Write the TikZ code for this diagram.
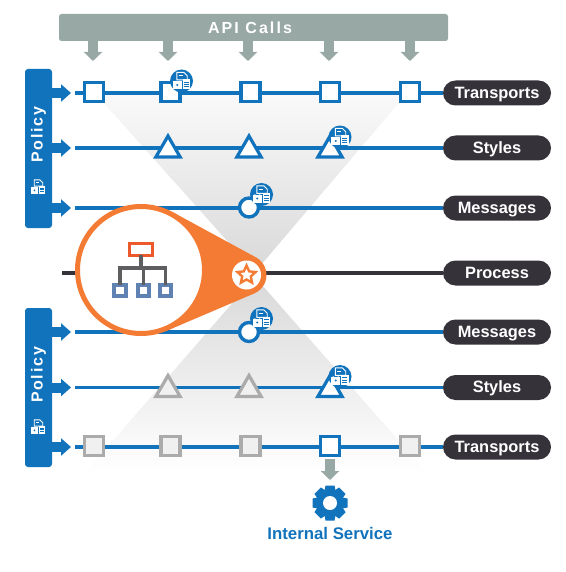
\documentclass[tikz,border=0pt]{standalone}
\usepackage{fontspec}
\setmainfont{Liberation Sans}
\usetikzlibrary{shapes.geometric,shapes.misc,arrows.meta,calc}
\definecolor{blu}{HTML}{1273BD}
\definecolor{apigray}{HTML}{98A8A5}
\definecolor{pilldark}{HTML}{35323A}
\definecolor{orng}{HTML}{F47B33}
\definecolor{redo}{HTML}{EC5A2C}
\definecolor{slate}{HTML}{5F82B2}
\definecolor{stem}{HTML}{5E5E60}
\definecolor{ghost}{HTML}{ABABAB}
\definecolor{ghostfill}{HTML}{F0F0F0}
\tikzset{
  x=1pt,y=-1pt,
  rowline/.style={draw=blu,line width=3.4pt},
  pill/.style={rounded rectangle,fill=pilldark,text=white,minimum width=108pt,minimum height=25pt,inner sep=0pt,outer sep=0pt,text height=12.5pt,text depth=2pt,font=\fontsize{16.4}{17}\selectfont\bfseries},
  sq/.style={rectangle,draw=blu,line width=3.4pt,fill=white,minimum size=19pt,inner sep=0pt,outer sep=0pt},
  sqg/.style={sq,draw=ghost,fill=ghostfill},
  tri/.style={regular polygon,regular polygon sides=3,draw=blu,line width=3.2pt,fill=white,minimum size=28pt,inner sep=0pt,outer sep=0pt,yshift=-2pt},
  trig/.style={tri,draw=ghost,fill=ghostfill},
  circ/.style={circle,draw=blu,line width=3.4pt,fill=white,minimum size=19pt,inner sep=0pt,outer sep=0pt},
  policybar/.style={rectangle,rounded corners=3pt,fill=blu,minimum width=27pt,inner sep=0pt,outer sep=0pt},
  policytxt/.style={text=white,rotate=90,font=\fontsize{16}{16}\selectfont\bfseries\addfontfeature{LetterSpace=11},inner sep=0pt},
  parrow/.style={draw=blu,line width=10pt,-{Triangle[width=17pt,length=10pt]}},
  garrow/.style={draw=apigray,line width=10pt,-{Triangle[width=18pt,length=9pt]}},
  orgbox/.style={rectangle,draw=slate,line width=3.6pt,fill=white,minimum size=11.5pt,inner sep=0pt,outer sep=0pt},
  orgline/.style={draw=stem,line width=3.2pt},
  badge/.pic={
    \fill[blu] (0,0) circle (11.5);
    \pic[scale=1.15] {docs};
  },
  docs/.pic={
    \draw[white,line width=.9pt,fill=blu] (-4,-7.5) -- (2,-7.5) -- (5,-4.5) -- (5,-1) -- (-4,-1) -- cycle;
    \draw[white,line width=.8pt] (-2.5,-4.5) -- (1,-4.5);
    \fill[white] (1,-1.5) rectangle (7.5,7);
    \draw[blu,line width=.8pt] (2,1) -- (6.5,1) (2,3) -- (6.5,3) (2,5) -- (6.5,5);
    \draw[white,line width=1.1pt] (-5.9,0) arc[start angle=180,end angle=0,radius=2.2];
    \fill[white] (-7.5,0) rectangle (0,7);
    \fill[blu] (-3.7,3.5) circle (1);
  },
}
\begin{document}
\begin{tikzpicture}
\useasboundingbox (0,0) rectangle (565,572);
\fill[white] (0,0) rectangle (565,572);
% hourglass
\shade[top color=white!98!black,bottom color=black!15] (94,92) -- (408,92) -- (255,272) -- cycle;
\shade[top color=black!15,bottom color=white] (255,277) -- (427,473) -- (85,473) -- cycle;
% API bar
\node[rectangle,rounded corners=2.5pt,fill=apigray,minimum width=389pt,minimum height=27pt,inner sep=0pt,outer sep=0pt] (api) at (253.5,27.5) {};
\node[text=white,inner sep=0pt,font=\fontsize{16}{16}\selectfont\bfseries\addfontfeature{LetterSpace=13}] (apitxt) at (250,28) {API Calls};
% Policy bars
\node[policybar,minimum height=159pt] (pol1) at (38.5,148.5) {};
\node[policybar,minimum height=159pt] (pol2) at (38.5,387.5) {};
\node[policytxt] (poltxt1) at (38.5,135) {Policy};
\node[policytxt] (poltxt2) at (38.5,375) {Policy};
\pic[scale=.95] at (38,187) {docs};
\pic[scale=.95] at (38,427) {docs};
% pills
\node[pill] (pT) at (497,93) {Transports};
\node[pill] (pS) at (497,148) {Styles};
\node[pill] (pM) at (497,208) {Messages};
\node[pill] (pP) at (497,273) {Process};
\node[pill] (pMb) at (497,332) {Messages};
\node[pill] (pSb) at (497,387.5) {Styles};
\node[pill] (pTb) at (497,447) {Transports};
% row start points
\coordinate (sT) at (75,93);
\coordinate (sS) at (75,148);
\coordinate (sM) at (75,208);
\coordinate (sP) at (62,273);
\coordinate (sMb) at (75,332);
\coordinate (sSb) at (75,387.5);
\coordinate (sTb) at (75,447);
\draw[rowline] (sT) -- (pT);
\draw[rowline] (sS) -- (pS);
\draw[rowline] (sM) -- (pM);
\draw[rowline] (sMb) -- (pMb);
\draw[rowline] (sSb) -- (pSb);
\draw[rowline] (sTb) -- (pTb);
\draw[draw=pilldark,line width=3.4pt] (sP) -- (pP);
% policy arrows
\foreach \r/\p in {93/pol1,148/pol1,208/pol1,332/pol2,387.5/pol2,447/pol2}{
  \coordinate (tipa) at (71,\r);
  \draw[parrow] (\p.east |- tipa) -- (tipa);
}
% top row
\node[sq] (t1) at (94,92) {};
\node[sq] (t2) at (170.5,92) {};
\node[sq] (t3) at (250.5,92) {};
\node[sq] (t4) at (330,92) {};
\node[sq] (t5) at (410,92) {};
\foreach \x in {93,168,248,329,410}{
  \coordinate (tip) at (\x,61);
  \draw[garrow] (api.south -| tip) -- (tip);
}
\node[tri] (s1) at (168,148) {};
\node[tri] (s2) at (249,148) {};
\node[tri] (s3) at (330,148) {};
\node[circ] (m1) at (249,207.5) {};
\node[circ] (m2) at (249,332) {};
\node[trig] (b1) at (168,387.5) {};
\node[trig] (b2) at (249,387.5) {};
\node[tri] (b3) at (330,387.5) {};
\node[sqg] (q1) at (94,446) {};
\node[sqg] (q2) at (170.5,446) {};
\node[sqg] (q3) at (250.5,446) {};
\node[sq] (q4) at (330,446) {};
\node[sqg] (q5) at (410,446) {};
% badges
\pic at (181.5,81) {badge};
\pic at (261.5,194.5) {badge};
\pic at (340,137) {badge};
\pic at (261.5,318.5) {badge};
\pic at (340,376.5) {badge};
% magnifier
\coordinate (big) at (141,270);
\coordinate (small) at (246.5,275);
\fill[orng] ($(big)+(67:66)$) -- ($(small)+(67:20)$) arc[start angle=67,end angle=-61.6,radius=20] -- ($(big)+(-61.6:66)$) -- cycle;
\node[circle,draw=orng,line width=5pt,fill=white,minimum size=127pt,inner sep=0pt,outer sep=0pt] (lens) at (big) {};
\node[circle,fill=white,minimum size=29pt,inner sep=0pt,outer sep=0pt] (focus) at (small) {};
\node[star,star points=5,star point ratio=2.1,draw=orng,line width=2.4pt,fill=white,minimum size=19pt,inner sep=0pt,outer sep=0pt] (starn) at (small) {};
% org chart
\node[rectangle,draw=redo,line width=3.2pt,fill=white,minimum width=22.5pt,minimum height=11.5pt,inner sep=0pt,outer sep=0pt] (root) at (141,249.5) {};
\node[orgbox] (k1) at (120,290.5) {};
\node[orgbox] (k2) at (143.5,290.5) {};
\node[orgbox] (k3) at (165.5,290.5) {};
\coordinate (bus) at (141,268);
\draw[orgline] (root.south) -- (bus);
\draw[orgline] (k1.north) |- (bus);
\draw[orgline] (k3.north) |- (bus);
\draw[orgline] (bus -| k2) -- (k2.north);
% internal service
\coordinate (svcTip) at (330,480);
\coordinate (svcTop) at (330,459);
\draw[garrow] (svcTop) -- (svcTip);
\coordinate (gear) at (330,503);
\foreach \a in {0,45,...,315}{
  \fill[blu,rotate around={\a:(gear)}] ($(gear)+(-4.5,-17.5)$) -- ($(gear)+(4.5,-17.5)$) -- ($(gear)+(6,-10)$) -- ($(gear)+(-6,-10)$) -- cycle;
}
\fill[blu] (gear) circle (13.5);
\fill[white] (gear) circle (7);
\node[text=blu,inner sep=0pt,font=\fontsize{16.8}{17}\selectfont\bfseries] (svc) at (330,533) {Internal Service};
\end{tikzpicture}
\end{document}
